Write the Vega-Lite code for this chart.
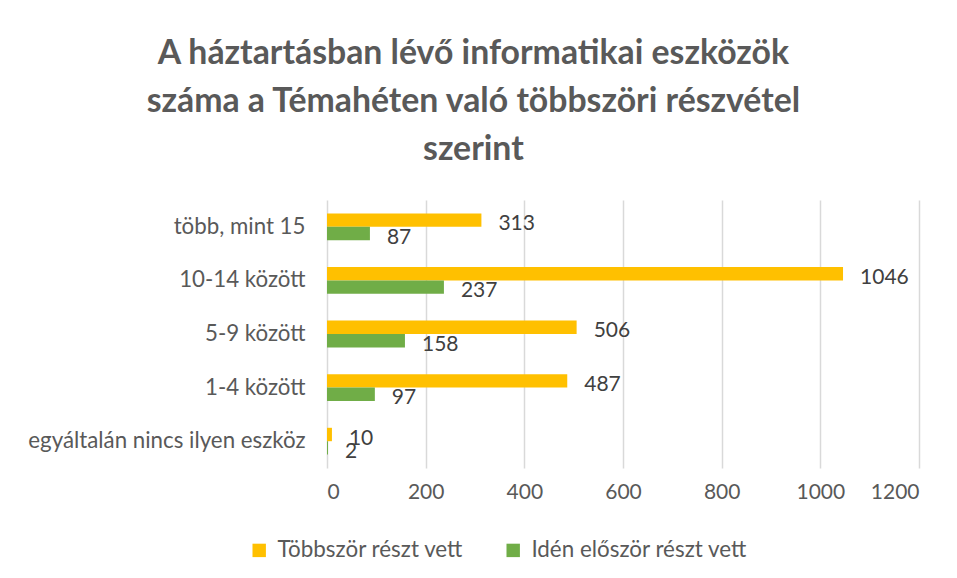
{
  "$schema": "https://vega.github.io/schema/vega-lite/v6.json",
  "width": 592,
  "height": 268,
  "padding": {"left": 27, "top": 37, "right": 30, "bottom": 10},
  "background": "white",
  "title": {
    "text": ["A háztartásban lévő informatikai eszközök", "száma a Témahéten való többszöri részvétel", "szerint"],
    "font": "Lato",
    "fontSize": 33.8,
    "fontWeight": "bold",
    "color": "#595959",
    "lineHeight": 48,
    "anchor": "middle",
    "frame": "bounds",
    "offset": 33
  },
  "data": {
    "values": [
      {"cat": "több, mint 15", "series": "Többször részt vett", "value": 313},
      {"cat": "több, mint 15", "series": "Idén először részt vett", "value": 87},
      {"cat": "10-14 között", "series": "Többször részt vett", "value": 1046},
      {"cat": "10-14 között", "series": "Idén először részt vett", "value": 237},
      {"cat": "5-9 között", "series": "Többször részt vett", "value": 506},
      {"cat": "5-9 között", "series": "Idén először részt vett", "value": 158},
      {"cat": "1-4 között", "series": "Többször részt vett", "value": 487},
      {"cat": "1-4 között", "series": "Idén először részt vett", "value": 97},
      {"cat": "egyáltalán nincs ilyen eszköz", "series": "Többször részt vett", "value": 10},
      {"cat": "egyáltalán nincs ilyen eszköz", "series": "Idén először részt vett", "value": 2}
    ]
  },
  "encoding": {
    "y": {
      "field": "cat",
      "type": "nominal",
      "sort": ["több, mint 15", "10-14 között", "5-9 között", "1-4 között", "egyáltalán nincs ilyen eszköz"],
      "scale": {"paddingInner": 0.5, "paddingOuter": 0.25},
      "axis": {"title": null, "domain": false, "ticks": false, "labelPadding": 22, "labelLimit": 400, "labelFont": "Lato", "labelFontSize": 22.3, "labelColor": "#595959"}
    },
    "yOffset": {
      "field": "series",
      "type": "nominal",
      "sort": ["Többször részt vett", "Idén először részt vett"],
      "scale": {"paddingInner": 0, "paddingOuter": 0}
    },
    "x": {
      "field": "value",
      "type": "quantitative",
      "scale": {"domain": [0, 1200], "nice": false},
      "axis": {"title": null, "values": [0, 200, 400, 600, 800, 1000, 1200], "format": "d", "domain": false, "ticks": false, "grid": true, "gridColor": "#d9d9d9", "gridWidth": 1.5, "labelPadding": 13, "labelFont": "Lato", "labelFontSize": 21, "labelColor": "#595959"}
    }
  },
  "layer": [
    {
      "mark": {"type": "bar"},
      "encoding": {
        "color": {
          "field": "series",
          "type": "nominal",
          "sort": ["Többször részt vett", "Idén először részt vett"],
          "scale": {"domain": ["Többször részt vett", "Idén először részt vett"], "range": ["#FFC000", "#70AD47"]},
          "legend": {
            "title": null,
            "orient": "none",
            "direction": "horizontal",
            "legendX": -79,
            "legendY": 339,
            "symbolType": "square",
            "symbolSize": 180,
            "symbolStrokeWidth": 0,
            "labelFont": "Lato",
            "labelFontSize": 22.4,
            "labelLimit": 400,
            "labelColor": "#595959",
            "columnPadding": 38,
            "labelOffset": 7
          }
        }
      }
    },
    {
      "mark": {"type": "text", "align": "left", "baseline": "middle", "dx": 17, "dy": 4, "font": "Lato", "fontSize": 21, "color": "#404040"},
      "encoding": {"text": {"field": "value", "type": "quantitative"}}
    }
  ],
  "config": {"view": {"stroke": null}}
}
